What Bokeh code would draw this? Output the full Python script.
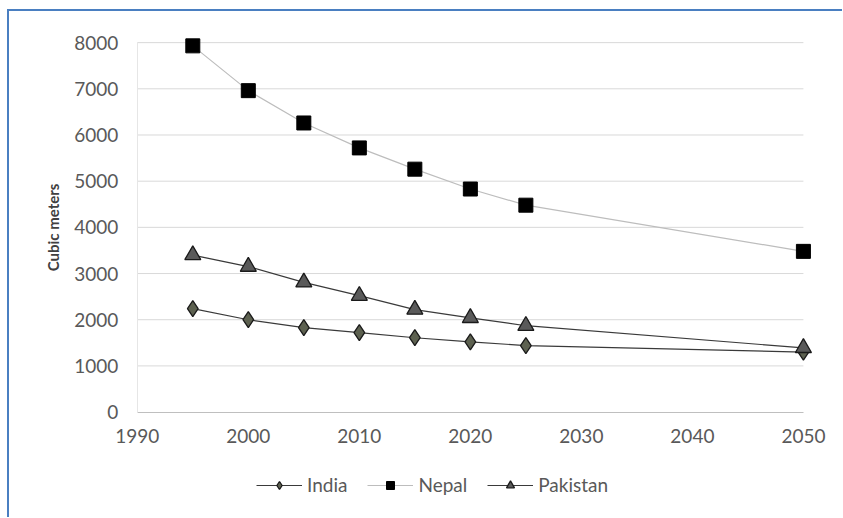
from bokeh.plotting import figure
from bokeh.models import Legend, LegendItem, FixedTicker, Range1d
from bokeh.embed import file_html
from bokeh.resources import INLINE

years = [1995, 2000, 2005, 2010, 2015, 2020, 2025, 2050]
india = [2240, 2000, 1830, 1720, 1610, 1520, 1440, 1300]
nepal = [7930, 6960, 6260, 5720, 5260, 4830, 4480, 3480]
pakistan = [3400, 3150, 2810, 2520, 2220, 2040, 1870, 1390]
x_ticks = [1990, 2000, 2010, 2020, 2030, 2040, 2050]
y_ticks = [0, 1000, 2000, 3000, 4000, 5000, 6000, 7000, 8000]

FONT = "Lato"
x_lo, x_hi = x_ticks[0], x_ticks[-1]
y_lo, y_hi = y_ticks[0], y_ticks[-1]

# the frame covers the whole card; axes are drawn at fixed data locations
p = figure(width=835, height=508, output_backend="svg", toolbar_location=None,
           x_range=Range1d(1978.49, 2053.7), y_range=Range1d(-2326, 8674),
           min_border_left=0, min_border_right=0, min_border_top=0, min_border_bottom=0)
p.styles = {"border-left": "2px solid #4a7fc1", "border-top": "2px solid #4a7fc1",
            "margin-top": "9px", "margin-left": "7px", "box-sizing": "border-box"}
p.outline_line_color = None
p.background_fill_color = "white"
p.border_fill_color = "white"
p.xgrid.visible = False
p.ygrid.visible = False

# horizontal gridlines between the first and last year tick
grid_y = y_ticks[1:]
p.segment(x0=[x_lo] * len(grid_y), x1=[x_hi] * len(grid_y), y0=grid_y, y1=grid_y,
          line_color="#d9d9d9", line_width=1)

for ax in (p.xaxis[0], p.yaxis[0]):
    ax.major_tick_line_color = None
    ax.minor_tick_line_color = None
    ax.major_tick_out = 0
    ax.major_tick_in = 0
    ax.minor_tick_out = 0
    ax.minor_tick_in = 0
    ax.major_label_text_font = FONT
    ax.major_label_text_font_size = "19px"
    ax.major_label_text_color = "#595959"
p.xaxis.ticker = FixedTicker(ticks=x_ticks)
p.yaxis.ticker = FixedTicker(ticks=y_ticks)
p.xaxis.fixed_location = y_lo
p.yaxis.fixed_location = x_lo
p.xaxis.bounds = (x_lo, x_hi)
p.yaxis.bounds = (y_lo, y_hi)
p.xaxis.axis_line_color = "#bfbfbf"
p.yaxis.axis_line_color = "#e6e6e6"
p.xaxis.major_label_standoff = 17
p.yaxis.major_label_standoff = 19
p.yaxis.axis_label = "Cubic meters"
p.yaxis.axis_label_text_font = FONT
p.yaxis.axis_label_text_font_size = "15px"
p.yaxis.axis_label_text_font_style = "bold"
p.yaxis.axis_label_text_color = "#404040"
p.yaxis.axis_label_standoff = 9

# small markers (used as legend swatches), hidden under the large ones
k1 = p.scatter(years, india, marker="diamond", size=10, fill_color="#5d6150",
               line_color="#1a1a1a", line_width=1.3)
k2 = p.scatter(years, nepal, marker="square", size=9, fill_color="#000000",
               line_color="#000000")
k3 = p.scatter(years, pakistan, marker="triangle", size=10, fill_color="#5a5a5a",
               line_color="#1a1a1a", line_width=1.3)

l1 = p.line(years, india, line_color="#3a3a3a", line_width=1.2)
p.scatter(years, india, marker="diamond", size=16, fill_color="#5d6150",
          line_color="#1a1a1a", line_width=1.3)
l2 = p.line(years, nepal, line_color="#bdbdbd", line_width=1.2)
p.scatter(years, nepal, marker="square", size=14, fill_color="#000000",
          line_color="#000000")
l3 = p.line(years, pakistan, line_color="#3a3a3a", line_width=1.2)
p.scatter(years, pakistan, marker="triangle", size=16, fill_color="#5a5a5a",
          line_color="#1a1a1a", line_width=1.3)

legend = Legend(items=[LegendItem(label="India", renderers=[l1, k1]),
                       LegendItem(label="Nepal", renderers=[l2, k2]),
                       LegendItem(label="Pakistan", renderers=[l3, k3])],
                orientation="horizontal", location=(247, 23), margin=0, padding=8,
                label_text_font=FONT, label_text_font_size="19px",
                label_text_color="#595959", border_line_color=None,
                background_fill_alpha=0, glyph_width=46, label_standoff=5,
                spacing=20)
p.add_layout(legend, "center")

open("out.html", "w").write(file_html(p, INLINE))
